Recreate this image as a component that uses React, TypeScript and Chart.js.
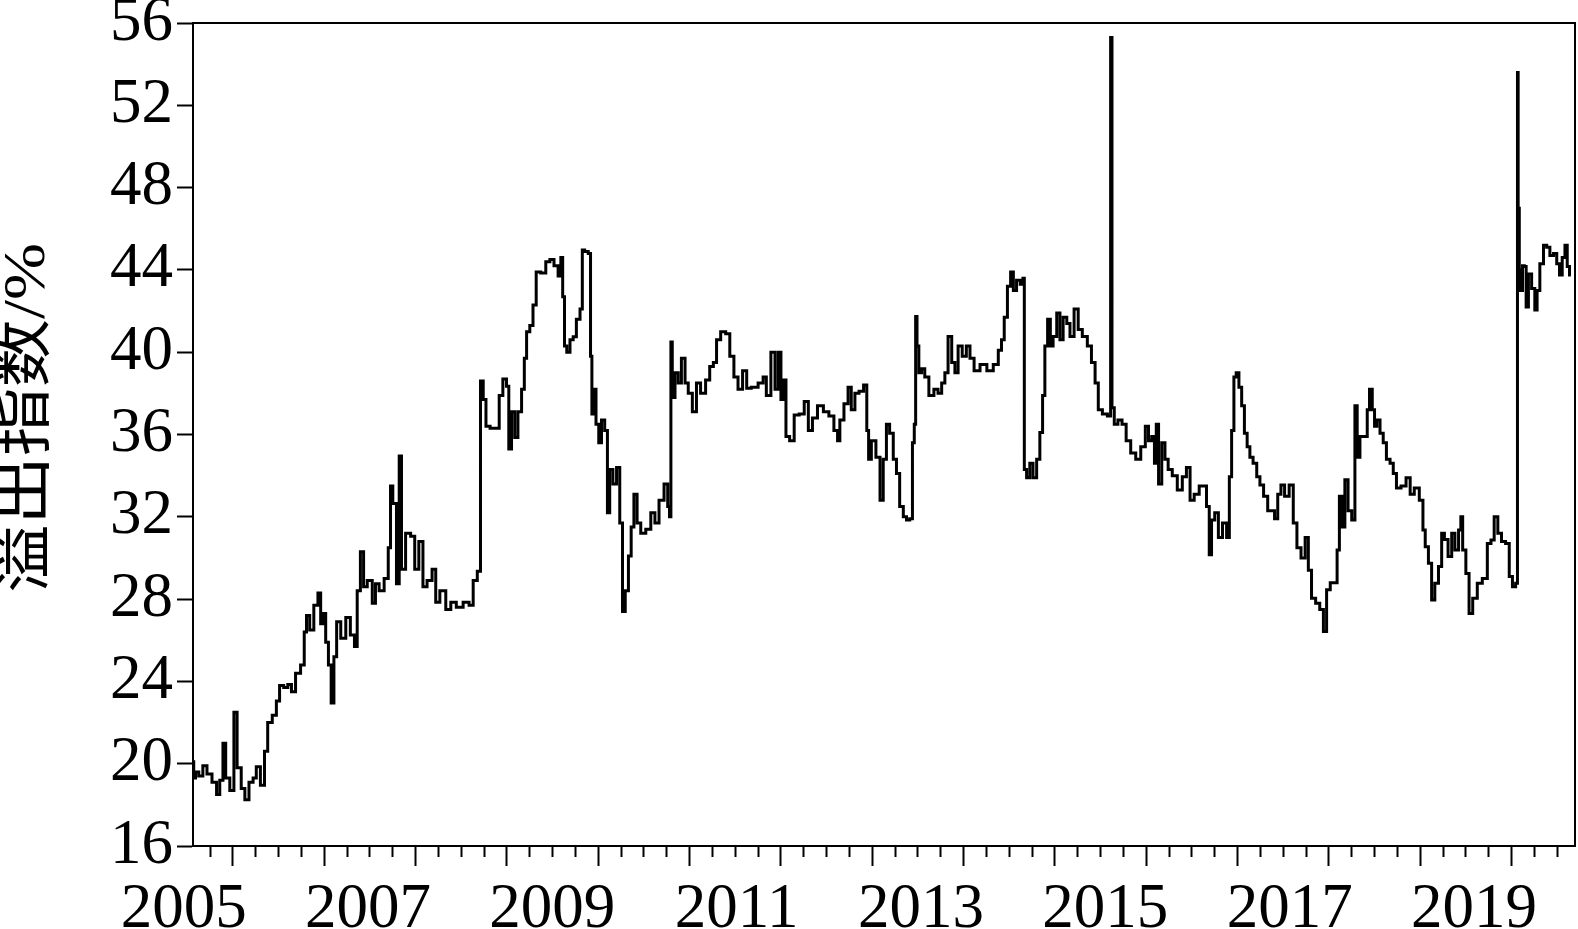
import React, { useEffect, useRef } from "react";
import { Chart, registerables } from "chart.js";

Chart.register(...registerables);

// [fractional year, spillover index %]
const SEG_2005_2009: [number, number][] = [
  [2005.56, 20.1], [2005.58, 19.3], [2005.60, 19.6], [2005.65, 19.4], [2005.69, 19.9], [2005.74, 19.5],
  [2005.80, 19.1], [2005.84, 18.5], [2005.87, 19.2], [2005.91, 21.0], [2005.93, 19.3], [2005.95, 19.3],
  [2005.98, 18.7], [2006.04, 22.5], [2006.05, 19.8], [2006.07, 19.8], [2006.11, 18.8], [2006.15, 18.25],
  [2006.20, 19.1], [2006.24, 19.3], [2006.27, 19.85], [2006.33, 18.95], [2006.36, 20.6], [2006.40, 22.0],
  [2006.46, 22.35], [2006.49, 23.05], [2006.53, 23.8], [2006.58, 23.7], [2006.62, 23.85], [2006.66, 23.5],
  [2006.71, 24.4], [2006.77, 24.8], [2006.79, 26.4], [2006.82, 27.2], [2006.86, 26.5], [2006.91, 27.7],
  [2006.95, 28.3], [2006.97, 26.8], [2007.00, 27.3], [2007.03, 25.9], [2007.06, 24.8], [2007.09, 22.95],
  [2007.12, 25.2], [2007.15, 26.9], [2007.21, 26.1], [2007.26, 27.1], [2007.31, 26.25], [2007.35, 25.7],
  [2007.37, 28.4], [2007.42, 30.3], [2007.44, 28.6], [2007.50, 28.9], [2007.55, 27.8], [2007.57, 28.75],
  [2007.63, 28.4], [2007.68, 29.0], [2007.72, 30.5], [2007.73, 33.5], [2007.77, 32.65], [2007.81, 28.75],
  [2007.83, 34.96], [2007.86, 29.45], [2007.92, 31.2], [2007.97, 31.05], [2008.01, 29.45], [2008.06, 30.8],
  [2008.10, 28.6], [2008.15, 28.9], [2008.21, 29.45], [2008.23, 27.85], [2008.30, 28.4], [2008.36, 27.5],
  [2008.41, 27.85], [2008.48, 27.6], [2008.56, 27.85], [2008.61, 27.7], [2008.65, 28.9], [2008.70, 29.35],
  [2008.72, 38.6], [2008.76, 37.7], [2008.78, 36.4], [2008.85, 36.3], [2008.90, 36.3], [2008.93, 37.9],
  [2008.98, 38.7], [2009.01, 38.35], [2009.03, 35.3], [2009.07, 37.1], [2009.10, 35.85], [2009.14, 37.1],
  [2009.18, 38.2], [2009.20, 39.7], [2009.23, 41.0], [2009.27, 41.3], [2009.30, 42.3], [2009.34, 43.9],
  [2009.40, 43.85], [2009.45, 44.4],
];

const SEG_2009_2013: [number, number][] = [
  [2009.49, 44.5], [2009.54, 44.2], [2009.58, 43.7], [2009.60, 44.6], [2009.62, 42.7], [2009.64, 40.3],
  [2009.67, 40.0], [2009.71, 40.6], [2009.74, 40.75], [2009.78, 41.6], [2009.82, 42.1], [2009.83, 44.97],
  [2009.87, 44.9], [2009.91, 44.8], [2009.92, 39.8], [2009.94, 37.0], [2009.96, 38.2], [2009.99, 36.5],
  [2010.02, 35.6], [2010.05, 36.7], [2010.09, 36.2], [2010.11, 32.2], [2010.14, 34.3], [2010.18, 33.6],
  [2010.22, 34.4], [2010.25, 31.7], [2010.28, 27.4], [2010.31, 28.4], [2010.35, 30.1], [2010.37, 31.5],
  [2010.41, 33.1], [2010.44, 31.7], [2010.49, 31.2], [2010.55, 31.4], [2010.60, 32.2], [2010.64, 31.7],
  [2010.69, 32.8], [2010.75, 33.6], [2010.77, 32.5], [2010.79, 32.0], [2010.80, 40.5], [2010.82, 37.8],
  [2010.86, 39.0], [2010.89, 38.5], [2010.93, 39.7], [2010.97, 38.5], [2011.00, 38.0], [2011.06, 37.1],
  [2011.09, 38.5], [2011.15, 38.0], [2011.20, 38.65], [2011.24, 39.3], [2011.28, 39.5], [2011.31, 40.6],
  [2011.37, 41.0], [2011.42, 40.9], [2011.46, 39.8], [2011.51, 38.8], [2011.55, 38.2], [2011.61, 39.1],
  [2011.64, 38.25], [2011.71, 38.3], [2011.79, 38.5], [2011.82, 38.8], [2011.86, 37.9], [2011.92, 40.0],
  [2011.95, 38.2], [2011.99, 40.0], [2012.01, 37.7], [2012.04, 38.65], [2012.07, 35.9], [2012.12, 35.7],
  [2012.17, 36.95], [2012.23, 37.0], [2012.28, 37.6], [2012.32, 36.2], [2012.37, 36.8], [2012.43, 37.4],
  [2012.50, 37.1], [2012.55, 36.9], [2012.61, 36.2], [2012.63, 35.7], [2012.66, 36.7], [2012.72, 37.5],
  [2012.75, 38.3], [2012.79, 37.2], [2012.83, 38.0], [2012.88, 38.1], [2012.93, 38.4], [2012.95, 36.2],
  [2012.97, 34.8], [2013.01, 35.7], [2013.07, 34.9], [2013.10, 32.8], [2013.14, 34.8], [2013.17, 36.5],
  [2013.21, 36.06], [2013.25, 34.8], [2013.28, 34.1], [2013.32, 32.5],
];

const SEG_2013_2017: [number, number][] = [
  [2013.36, 32.0], [2013.39, 31.85], [2013.43, 31.9], [2013.45, 35.6], [2013.47, 36.5], [2013.48, 41.73],
  [2013.50, 40.3], [2013.52, 39.0], [2013.56, 39.2], [2013.59, 38.8], [2013.65, 37.9], [2013.70, 38.2],
  [2013.74, 38.0], [2013.78, 38.5], [2013.81, 39.0], [2013.85, 40.76], [2013.89, 39.5], [2013.92, 39.0],
  [2013.96, 40.3], [2014.01, 39.8], [2014.05, 40.3], [2014.09, 39.7], [2014.14, 39.1], [2014.22, 39.4],
  [2014.29, 39.1], [2014.36, 39.4], [2014.40, 40.1], [2014.43, 40.6], [2014.46, 41.7], [2014.50, 43.2],
  [2014.53, 43.9], [2014.56, 43.0], [2014.60, 43.5], [2014.64, 43.3], [2014.66, 43.6], [2014.67, 34.3],
  [2014.71, 33.9], [2014.74, 34.6], [2014.78, 33.9], [2014.82, 34.8], [2014.85, 36.1], [2014.88, 37.9],
  [2014.90, 40.3], [2014.94, 41.6], [2014.96, 40.3], [2015.00, 40.76], [2015.04, 41.9], [2015.07, 40.6],
  [2015.11, 41.7], [2015.15, 41.4], [2015.18, 40.76], [2015.24, 42.1], [2015.27, 41.1], [2015.33, 40.76],
  [2015.38, 40.3], [2015.42, 39.5], [2015.46, 38.5], [2015.49, 37.2], [2015.55, 37.0], [2015.60, 36.9],
  [2015.62, 55.3], [2015.63, 37.3], [2015.67, 36.5], [2015.71, 36.7], [2015.76, 36.5], [2015.80, 35.7],
  [2015.86, 35.1], [2015.91, 34.8], [2015.97, 35.4], [2016.01, 36.4], [2016.04, 35.7], [2016.08, 35.9],
  [2016.10, 34.6], [2016.12, 36.5], [2016.15, 33.6], [2016.19, 35.6], [2016.22, 34.8], [2016.26, 34.3],
  [2016.31, 34.0], [2016.37, 33.3], [2016.42, 33.95], [2016.46, 34.4], [2016.50, 32.8], [2016.55, 33.1],
  [2016.61, 33.5], [2016.64, 33.5], [2016.68, 32.5], [2016.70, 30.15], [2016.73, 31.85], [2016.77, 32.2],
  [2016.81, 31.0], [2016.86, 31.7], [2016.90, 31.0], [2016.92, 33.95], [2016.95, 36.2], [2016.97, 38.8],
  [2017.00, 39.0], [2017.03, 38.3], [2017.06, 37.4],
];

const SEG_2017_2020: [number, number][] = [
  [2017.09, 36.06], [2017.12, 35.4], [2017.15, 34.9], [2017.19, 34.6], [2017.23, 33.95], [2017.26, 33.55],
  [2017.31, 33.0], [2017.35, 32.3], [2017.39, 32.3], [2017.42, 31.9], [2017.46, 33.1], [2017.49, 33.55],
  [2017.54, 33.0], [2017.59, 33.55], [2017.63, 31.7], [2017.67, 30.5], [2017.72, 30.0], [2017.76, 31.0],
  [2017.79, 29.4], [2017.83, 28.04], [2017.88, 27.8], [2017.92, 27.5], [2017.96, 26.42], [2017.99, 28.45],
  [2018.04, 28.8], [2018.08, 28.8], [2018.10, 30.39], [2018.13, 33.0], [2018.16, 31.5], [2018.19, 33.8],
  [2018.23, 32.3], [2018.27, 31.85], [2018.30, 37.4], [2018.32, 34.9], [2018.36, 35.9], [2018.41, 35.9],
  [2018.43, 37.2], [2018.46, 38.2], [2018.49, 37.2], [2018.51, 36.4], [2018.54, 36.7], [2018.58, 36.06],
  [2018.61, 35.6], [2018.65, 34.8], [2018.69, 34.6], [2018.72, 34.1], [2018.76, 33.4], [2018.82, 33.5],
  [2018.87, 33.9], [2018.91, 33.1], [2018.96, 33.4], [2019.02, 32.8], [2019.04, 31.36], [2019.07, 30.55],
  [2019.11, 29.74], [2019.14, 27.96], [2019.18, 28.77], [2019.22, 29.58], [2019.25, 31.2], [2019.28, 30.9],
  [2019.33, 30.07], [2019.36, 31.2], [2019.40, 30.39], [2019.44, 31.36], [2019.45, 32.0], [2019.48, 30.39],
  [2019.52, 29.25], [2019.55, 27.3], [2019.60, 28.04], [2019.65, 28.77], [2019.71, 29.0], [2019.76, 30.7],
  [2019.79, 30.87], [2019.83, 32.0], [2019.87, 31.2], [2019.91, 30.8], [2019.96, 30.7], [2019.99, 29.1],
  [2020.03, 28.6], [2020.06, 28.77], [2020.07, 53.6], [2020.075, 43.0], [2020.08, 47.0], [2020.09, 44.0],
  [2020.11, 43.0], [2020.13, 44.2], [2020.15, 44.16], [2020.17, 42.2], [2020.20, 43.8], [2020.24, 43.1],
  [2020.27, 42.05], [2020.29, 43.0], [2020.33, 44.3], [2020.37, 45.2], [2020.40, 45.1], [2020.44, 44.7],
  [2020.48, 44.8], [2020.51, 44.3], [2020.54, 43.75], [2020.57, 44.6], [2020.60, 45.2], [2020.62, 44.16],
  [2020.65, 43.75],
];

const Y_TICKS = [16, 20, 24, 28, 32, 36, 40, 44, 48, 52, 56];
const TICK_YEARS = [2006, 2007, 2008, 2009, 2010, 2011, 2012, 2013, 2014, 2015, 2016, 2017, 2018, 2019, 2020];
const YEAR_LABELS = ["2005", "2007", "2009", "2011", "2013", "2015", "2017", "2019"];
const Y_TITLE = "溢出指数/%";

const X_MIN = 2005.562;
const X_MAX = 2020.695;
const XL_MIN = 2005.601;
const XL_MAX = 2020.596;

const SERIF = '"Liberation Serif", "Times New Roman", serif';

export default function App() {
  const ref = useRef<HTMLCanvasElement | null>(null);

  useEffect(() => {
    if (!ref.current) return;
    const points = [...SEG_2005_2009, ...SEG_2009_2013, ...SEG_2013_2017, ...SEG_2017_2020].map(
      ([x, y]) => ({ x, y })
    );

    const quarterTicks: number[] = [];
    for (const yr of [2005, ...TICK_YEARS]) {
      for (const q of [0, 0.25, 0.5, 0.75]) {
        const v = yr + q;
        if (v >= X_MIN && v <= X_MAX) quarterTicks.push(v);
      }
    }

    const decor = {
      id: "decor",
      afterDraw(chart: any) {
        const { ctx, chartArea } = chart;
        ctx.save();
        ctx.strokeStyle = "#000";
        ctx.lineWidth = 2;
        ctx.beginPath();
        ctx.moveTo(chartArea.left, chartArea.top);
        ctx.lineTo(chartArea.right, chartArea.top);
        ctx.lineTo(chartArea.right, chartArea.bottom);
        ctx.stroke();

        const xl = chart.scales.xl;
        ctx.fillStyle = "#000";
        ctx.font = `63px ${SERIF}`;
        ctx.textAlign = "center";
        ctx.textBaseline = "alphabetic";
        for (const lab of YEAR_LABELS) {
          const px = xl.getPixelForValue(Number(lab) + 0.5);
          ctx.fillText(lab, px, 927);
        }

        ctx.translate(28, 418);
        ctx.rotate(-Math.PI / 2);
        ctx.font = `60px ${SERIF}, "Noto Sans CJK SC"`;
        const w = ctx.measureText(Y_TITLE).width;
        ctx.scale(350 / w, 1);
        ctx.textAlign = "center";
        ctx.textBaseline = "middle";
        ctx.fillText(Y_TITLE, 0, 0);
        ctx.restore();
      },
    };

    const chart = new Chart(ref.current, {
      type: "line",
      data: {
        datasets: [
          {
            data: points,
            borderColor: "#000",
            borderWidth: 3,
            pointRadius: 0,
            tension: 0,
            stepped: "middle",
            fill: false,
          },
        ],
      },
      options: {
        animation: false,
        responsive: false,
        parsing: false,
        layout: { padding: { top: 23, right: 3, left: 0, bottom: 0 } },
        plugins: { legend: { display: false }, tooltip: { enabled: false } },
        scales: {
          x: {
            type: "linear",
            min: X_MIN,
            max: X_MAX,
            afterBuildTicks: (s: any) => {
              s.ticks = quarterTicks.map((v) => ({ value: v }));
            },
            ticks: { display: false },
            grid: {
              drawOnChartArea: false,
              drawTicks: true,
              tickLength: 20,
              tickWidth: 2,
              tickColor: "#000",
              tickBorderDash: (c: any) =>
                c.tick && Math.abs(c.tick.value - Math.round(c.tick.value)) < 1e-6 ? [] : [10, 40],
            },
            border: { display: true, color: "#000", width: 2 },
            afterFit: (s: any) => {
              s.height = 83;
              s.paddingLeft = 0;
              s.paddingRight = 0;
            },
          },
          xl: {
            type: "linear",
            axis: "x",
            position: "bottom",
            display: false,
            min: XL_MIN,
            max: XL_MAX,
          },
          y: {
            type: "linear",
            min: 16,
            max: 56,
            afterBuildTicks: (s: any) => {
              s.ticks = Y_TICKS.map((v) => ({ value: v }));
            },
            ticks: {
              color: "#000",
              font: { family: SERIF, size: 63 },
              padding: 4,
            },
            grid: {
              drawOnChartArea: false,
              drawTicks: true,
              tickLength: 16,
              tickWidth: 2,
              tickColor: "#000",
            },
            border: { display: true, color: "#000", width: 2 },
            afterFit: (s: any) => {
              s.width = 193;
              s.paddingTop = 0;
              s.paddingBottom = 0;
            },
          },
        },
      },
      plugins: [decor],
    } as any);

    return () => chart.destroy();
  }, []);

  return (
    <div style={{ position: "fixed", left: 0, top: 0, width: 1578, height: 929, background: "#fff" }}>
      <canvas ref={ref} width={1578} height={929} style={{ display: "block", width: 1578, height: 929 }} />
    </div>
  );
}
